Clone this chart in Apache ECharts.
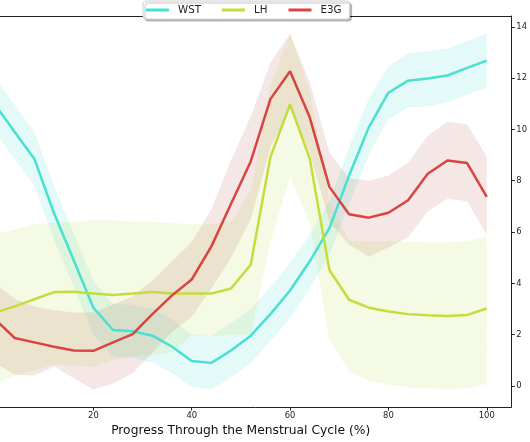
<!DOCTYPE html>
<html>
<head>
<meta charset="utf-8">
<script src="https://cdn.jsdelivr.net/npm/echarts@6/dist/echarts.min.js"></script>
<style>html,body{margin:0;padding:0;background:#fff;}#c{width:530px;height:442px;}</style>
</head>
<body>
<div id="c"></div>
<script>
const cyclePct = [0,4,8,12,16,20,24,28,32,36,40,44,48,52,56,60,64,68,72,76,80,84,88,92,96,100];
const xTicks = [0,20,40,60,80,100];
const yTicks = [0,2,4,6,8,10,12,14];

const wstMean = [10.96,9.9,8.85,6.73,4.9,3.05,2.18,2.13,1.96,1.53,0.97,0.9,1.38,1.96,2.8,3.72,4.86,6.15,8.2,10.08,11.43,11.9,11.98,12.1,12.4,12.68];
const wstHigh = [12.0,10.95,9.9,7.8,5.95,4.1,3.2,3.15,3.0,2.6,2.0,1.95,2.45,3.0,3.85,4.8,5.9,7.2,9.3,11.2,12.46,12.98,13.05,13.15,13.45,13.73];
const wstLow  = [9.9,8.85,7.8,5.7,3.85,2.0,1.15,1.1,0.9,0.5,-0.04,-0.14,0.33,0.9,1.75,2.65,3.8,5.1,7.1,9.0,10.4,10.85,10.9,11.05,11.35,11.63];

const lhMean = [2.86,3.1,3.38,3.66,3.67,3.6,3.55,3.6,3.66,3.6,3.6,3.6,3.8,4.73,8.92,10.98,8.86,4.52,3.36,3.05,2.9,2.8,2.76,2.73,2.77,3.02];
const lhHigh = [5.9,6.1,6.3,6.35,6.4,6.47,6.45,6.42,6.4,6.35,6.3,6.3,6.4,7.6,11.7,13.73,11.5,7.2,5.65,5.63,5.63,5.62,5.6,5.6,5.65,5.83];
const lhLow  = [0.1,0.4,0.6,0.85,0.8,0.75,1.0,1.16,1.2,1.3,1.98,1.93,2.0,2.0,5.6,8.16,6.3,1.8,0.57,0.2,0.05,-0.05,-0.1,-0.14,-0.1,0.09];

const e3gMean = [2.6,1.87,1.7,1.53,1.38,1.37,1.7,2.02,2.8,3.53,4.15,5.44,7.1,8.75,11.18,12.27,10.47,7.76,6.69,6.56,6.75,7.24,8.27,8.79,8.69,7.37];
const e3gHigh = [4.0,3.4,3.1,2.95,2.86,2.86,3.18,3.5,4.1,4.85,5.6,6.9,8.8,10.5,12.6,13.73,11.85,9.1,8.1,8.0,8.2,8.7,9.75,10.3,10.2,8.93];
const e3gLow  = [0.9,0.45,0.4,0.76,0.3,-0.14,0.1,0.5,1.3,2.1,2.7,3.8,5.0,6.5,9.3,10.8,9.1,6.4,5.5,5.05,5.4,5.8,6.8,7.3,7.2,5.89];

const FONT = 'DejaVu Sans';
const INK = '#222';

function bandSeries(low, high, fill) {
  return {
    type:'custom', silent:true, clip:true, z:1,
    data:[[cyclePct[0], low[0]]],
    renderItem: function(params, api) {
      const pts = [];
      for (let i = 0; i < cyclePct.length; i++) pts.push(api.coord([cyclePct[i], high[i]]));
      for (let i = cyclePct.length - 1; i >= 0; i--) pts.push(api.coord([cyclePct[i], low[i]]));
      return {type:'polygon', shape:{points:pts}, style:{fill:fill}};
    }
  };
}
function meanSeries(name, mean, color) {
  return {type:'line', name:name, symbol:'none', clip:true, data: cyclePct.map((x,i)=>[x, mean[i]]),
    itemStyle:{color:color}, lineStyle:{color:color, width:2.5}, z:2};
}

const axisText = {fontSize:8.4, color:INK, fontFamily:FONT};
const chart = echarts.init(document.getElementById('c'), null, {renderer:'canvas'});
chart.setOption({
  animation:false,
  backgroundColor:'#fff',
  grid:{left:0, right:15, top:16, bottom:32, show:false},
  legend:{
    data:['WST','LH','E3G'], top:1, left:143, icon:'rect', itemWidth:23, itemHeight:3, itemGap:21,
    padding:[4,8,4,3], backgroundColor:'#fff', borderColor:'#cfcfcf', borderWidth:1, borderRadius:3,
    shadowColor:'rgba(0,0,0,0.25)', shadowOffsetX:2, shadowOffsetY:2, shadowBlur:1,
    textStyle:{fontSize:10.3, color:INK, fontFamily:FONT, padding:[0,0,0,4]}
  },
  xAxis:[{
    type:'value', min:1.01, max:105,
    axisLine:{show:true, onZero:false, lineStyle:{color:INK, width:1}},
    axisTick:{show:true, customValues:xTicks, length:3.5, lineStyle:{color:INK}},
    axisLabel:Object.assign({customValues:xTicks, margin:5}, axisText),
    splitLine:{show:false},
    name:'Progress Through the Menstrual Cycle (%)', nameLocation:'middle', nameGap:18,
    nameTextStyle:{fontSize:12.3, color:'#111', fontFamily:FONT, padding:[0,30,0,0]}
  },{
    type:'value', position:'top', min:1.01, max:105,
    axisLine:{show:true, onZero:false, lineStyle:{color:INK, width:1}},
    axisTick:{show:false}, axisLabel:{show:false}, splitLine:{show:false}
  }],
  yAxis:{
    type:'value', position:'right', min:-0.82, max:14.42,
    axisLine:{show:true, onZero:false, lineStyle:{color:INK, width:1}},
    axisTick:{show:true, customValues:yTicks, length:3.5, lineStyle:{color:INK}},
    axisLabel:Object.assign({customValues:yTicks, margin:5}, axisText),
    splitLine:{show:false}
  },
  series:[
    bandSeries(wstLow, wstHigh, 'rgba(64,224,208,0.15)'),
    meanSeries('WST', wstMean, '#48e0d0'),
    bandSeries(lhLow, lhHigh, 'rgba(190,225,90,0.16)'),
    meanSeries('LH', lhMean, '#c4dd3c'),
    bandSeries(e3gLow, e3gHigh, 'rgba(190,110,100,0.17)'),
    meanSeries('E3G', e3gMean, '#d64541')
  ]
});
</script>
</body>
</html>
